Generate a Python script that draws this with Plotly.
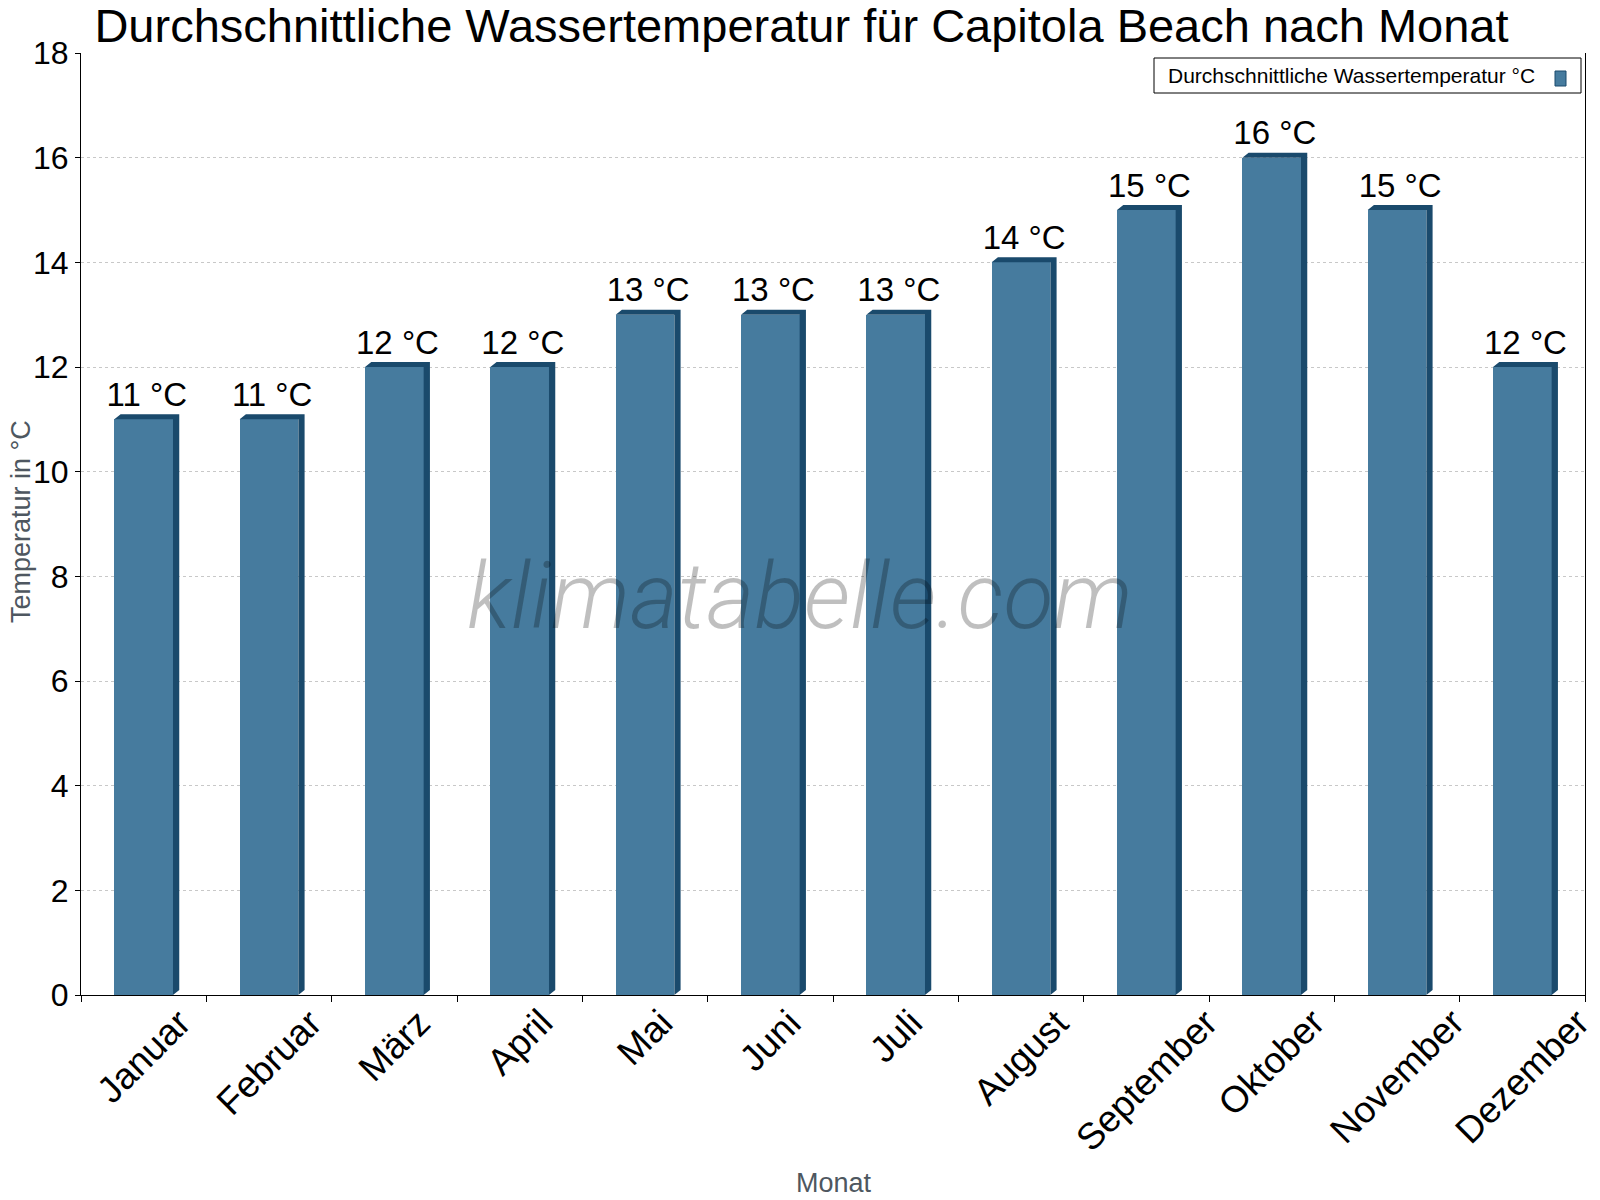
import plotly.graph_objects as go

months = ["Januar", "Februar", "März", "April", "Mai", "Juni", "Juli",
          "August", "September", "Oktober", "November", "Dezember"]
water_temp = [11, 11, 12, 12, 13, 13, 13, 14, 15, 16, 15, 12]
labels = [f"{v} °C" for v in water_temp]
y_ticks = list(range(0, 19, 2))

FRONT = "#467b9e"
DARK = "#1a4a6c"
BAR_W = 0.468
DX = 0.05     # depth offset (category units)
DY = 0.096    # depth offset (value units)
FONT = "Liberation Sans, Arial, sans-serif"

fig = go.Figure()

# front faces
fig.add_trace(go.Bar(x=months, y=water_temp, width=BAR_W, marker_color=FRONT,
                     marker_line_width=0, showlegend=False, hoverinfo="x+y"))

# side + top faces as polygons on a numeric overlay axis
for i, v in enumerate(water_temp):
    l = i - BAR_W / 2
    r = i + BAR_W / 2
    xs = [r, r + DX, r + DX, l + DX, l, r, r]
    ys = [0, DY, v + DY, v + DY, v, v, 0]
    fig.add_trace(go.Scatter(x=xs, y=ys, xaxis="x2", yaxis="y", mode="lines",
                             fill="toself", fillcolor=DARK, line=dict(width=0, color=DARK),
                             showlegend=False, hoverinfo="skip"))

# value labels
fig.add_trace(go.Scatter(x=[i + DX / 2 for i in range(len(months))],
                         y=[v + DY for v in water_temp], xaxis="x2", yaxis="y",
                         mode="text", text=labels, textposition="top center",
                         textfont=dict(family=FONT, size=33, color="black"),
                         cliponaxis=False, showlegend=False, hoverinfo="skip"))

fig.update_layout(
    width=1600, height=1200,
    margin=dict(l=81, r=15, t=53, b=205),
    paper_bgcolor="white", plot_bgcolor="white",
    font=dict(family=FONT, color="black"),
    title=dict(text="Durchschnittliche Wassertemperatur für Capitola Beach nach Monat",
               x=801.5 / 1600, xanchor="center", xref="container", y=1 - 26 / 1200,
               yanchor="middle", yref="container",
               font=dict(family=FONT, size=47, color="black")),
    xaxis=dict(type="category", range=[-0.5, 11.5], tickson="boundaries",
               ticks="outside", ticklen=6, tickcolor="black", tickwidth=1,
               showline=True, linecolor="black", linewidth=1, showgrid=False,
               showticklabels=False, automargin=False),
    xaxis2=dict(overlaying="x", range=[-0.5, 11.5], visible=False),
    yaxis=dict(range=[0, 18], tickvals=y_ticks, ticks="outside", ticklen=5,
               tickcolor="black", showline=True, linecolor="black", linewidth=1,
               mirror=True, showgrid=True, gridcolor="#c8c8c8", griddash="dot",
               gridwidth=1, zeroline=False,
               tickfont=dict(family=FONT, size=32, color="black"), automargin=False),
    bargap=0,
)

# rotated month labels, centred under each category
for m in months:
    fig.add_annotation(text=m, x=m, xref="x", y=0, yref="paper", yshift=-4,
                       textangle=-45, showarrow=False, xanchor="center", yanchor="top",
                       font=dict(family=FONT, size=37, color="black"))

# axis titles
fig.add_annotation(text="Temperatur in °C", xref="paper", yref="paper",
                   x=(21 - 81) / 1504, y=(995 - 522) / 942, textangle=-90,
                   showarrow=False, xanchor="center", yanchor="middle",
                   font=dict(family=FONT, size=27, color="#4e5760"))
fig.add_annotation(text="Monat", xref="paper", yref="paper",
                   x=(834 - 81) / 1504, y=(995 - 1183) / 942, showarrow=False,
                   xanchor="center", yanchor="middle",
                   font=dict(family=FONT, size=27, color="#4e5760"))

# watermark
fig.add_annotation(text="klimatabelle.com", xref="paper", yref="paper",
                   x=(800 - 81) / 1504, y=(995 - 596) / 942, showarrow=False,
                   xanchor="center", yanchor="middle",
                   font=dict(family="Roboto", size=92, color="rgba(0,0,0,0.25)",
                             style="italic", weight=300))

# legend box (swatch on the right, as in the reference)
fig.add_shape(type="rect", xref="paper", yref="paper",
              x0=(1154 - 81) / 1504, x1=(1581 - 81) / 1504,
              y0=(995 - 93) / 942, y1=(995 - 58) / 942,
              line=dict(color="black", width=1), fillcolor="white", layer="above")
fig.add_shape(type="rect", xref="paper", yref="paper",
              x0=(1555 - 81) / 1504, x1=(1566 - 81) / 1504,
              y0=(995 - 86) / 942, y1=(995 - 71) / 942,
              line=dict(color=DARK, width=1), fillcolor=FRONT, layer="above")
fig.add_annotation(text="Durchschnittliche Wassertemperatur °C", xref="paper", yref="paper",
                   x=(1166 - 81) / 1504, y=(995 - 75.5) / 942, showarrow=False,
                   xanchor="left", yanchor="middle",
                   font=dict(family=FONT, size=21, color="black"))

fig.write_html("out.html")
